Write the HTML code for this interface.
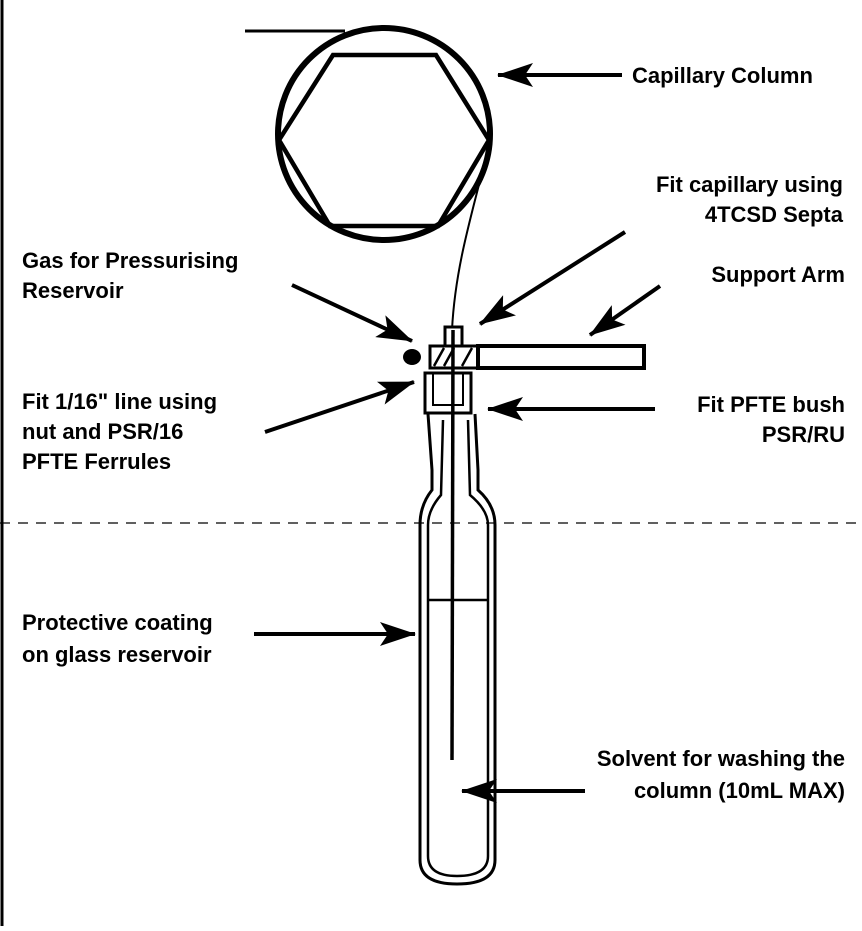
<!DOCTYPE html>
<html><head><style>
body{margin:0;background:#fff;}
svg text{font-family:"Liberation Sans",sans-serif;font-size:22px;font-weight:bold;fill:#000;}
</style></head><body>
<svg width="862" height="926" viewBox="0 0 862 926" xmlns="http://www.w3.org/2000/svg">
<defs>
<marker id="b" markerWidth="36" markerHeight="24" refX="35" refY="12" orient="auto" markerUnits="userSpaceOnUse"><path d="M0,0 L36,12 L0,24 L8,12 Z"/></marker></defs>
<line x1="2" y1="0" x2="2" y2="926" stroke="#000" stroke-width="3"/>
<line x1="0" y1="523" x2="862" y2="523" stroke="#000" stroke-width="1.2" stroke-dasharray="10,8"/>
<line x1="245" y1="31" x2="345" y2="31" stroke="#000" stroke-width="3"/>
<circle cx="384" cy="134" r="106" fill="none" stroke="#000" stroke-width="6"/>
<polygon points="333,55 436,55 489,140 438,226 330,226 279,140" fill="none" stroke="#000" stroke-width="4.5"/>
<path d="M488,150 C470,220 455,270 452,330" fill="none" stroke="#000" stroke-width="2"/>
<rect x="445" y="327" width="17" height="20" fill="#fff" stroke="#000" stroke-width="3"/>
<rect x="430" y="346" width="48" height="22" fill="#fff" stroke="#000" stroke-width="3"/>
<path d="M434,366 l10,-18 M444,366 l10,-18 M462,366 l10,-18" stroke="#000" stroke-width="2.5"/>
<rect x="478" y="346" width="166" height="22" fill="#fff" stroke="#000" stroke-width="4"/>
<ellipse cx="412" cy="357" rx="9" ry="8" fill="#000"/>
<rect x="425" y="373" width="46" height="40" fill="none" stroke="#000" stroke-width="3"/>
<rect x="433" y="373" width="30" height="32" fill="none" stroke="#000" stroke-width="2"/>
<path d="M420,525 L420,860 Q420,884 457,884 Q495,884 495,860 L495,525 Q495,505 478,490 L478,470 L475,414 M420,525 Q420,505 432,490 L432,470 L428,414" fill="none" stroke="#000" stroke-width="3"/>
<path d="M428,525 L428,856 Q428,876 457,876 Q488,876 488,856 L488,525 Q488,510 470,495 L468,420 M428,525 Q428,510 441,495 L443,420" fill="none" stroke="#000" stroke-width="2.5"/>
<path d="M428,600 L487,600" stroke="#000" stroke-width="2.5"/>
<line x1="453" y1="330" x2="452" y2="760" stroke="#000" stroke-width="3.5"/>
<g stroke="#000" stroke-width="4" fill="none">
<line x1="622" y1="75" x2="498" y2="75" marker-end="url(#b)"/>
<line x1="625" y1="232" x2="480" y2="324" marker-end="url(#b)"/>
<line x1="660" y1="286" x2="590" y2="335" marker-end="url(#b)"/>
<line x1="292" y1="285" x2="412" y2="341" marker-end="url(#b)"/>
<line x1="265" y1="432" x2="414" y2="382" marker-end="url(#b)"/>
<line x1="655" y1="409" x2="488" y2="409" marker-end="url(#b)"/>
<line x1="254" y1="634" x2="415" y2="634" marker-end="url(#b)"/>
<line x1="585" y1="791" x2="462" y2="791" marker-end="url(#b)"/>
</g>
<text x="632" y="83">Capillary Column</text>
<text x="843" y="192" text-anchor="end">Fit capillary using</text>
<text x="843" y="222" text-anchor="end">4TCSD Septa</text>
<text x="22" y="268">Gas for Pressurising</text>
<text x="22" y="298">Reservoir</text>
<text x="845" y="282" text-anchor="end">Support Arm</text>
<text x="22" y="409">Fit 1/16" line using</text>
<text x="22" y="439">nut and PSR/16</text>
<text x="22" y="469">PFTE Ferrules</text>
<text x="845" y="412" text-anchor="end">Fit PFTE bush</text>
<text x="845" y="442" text-anchor="end">PSR/RU</text>
<text x="22" y="630">Protective coating</text>
<text x="22" y="662">on glass reservoir</text>
<text x="845" y="766" text-anchor="end">Solvent for washing the</text>
<text x="845" y="798" text-anchor="end">column (10mL MAX)</text>
</svg>
</body></html>
